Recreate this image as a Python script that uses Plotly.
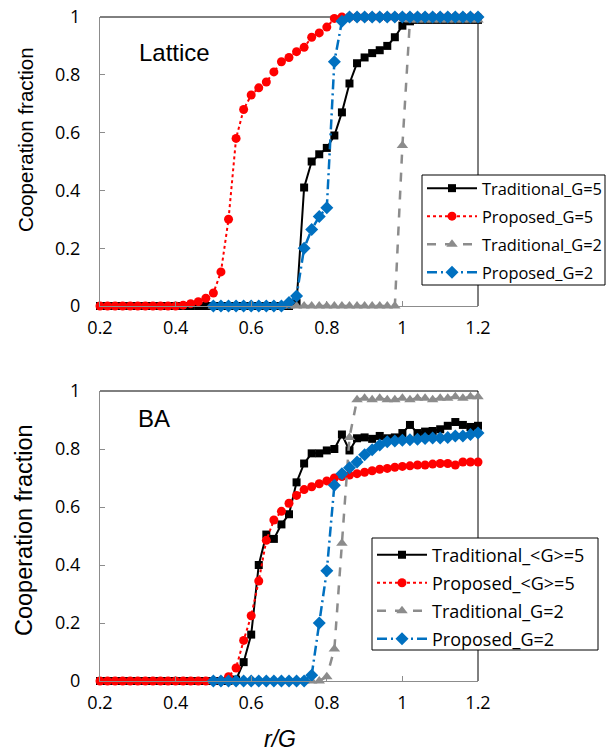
import plotly.graph_objects as go

# ---------------- data ----------------
r_G = [0.20, 0.22, 0.24, 0.26, 0.28, 0.30, 0.32, 0.34, 0.36, 0.38,
       0.40, 0.42, 0.44, 0.46, 0.48, 0.50, 0.52, 0.54, 0.56, 0.58,
       0.60, 0.62, 0.64, 0.66, 0.68, 0.70, 0.72, 0.74, 0.76, 0.78,
       0.80, 0.82, 0.84, 0.86, 0.88, 0.90, 0.92, 0.94, 0.96, 0.98,
       1.00, 1.02, 1.04, 1.06, 1.08, 1.10, 1.12, 1.14, 1.16, 1.18, 1.20]
r_G_from05 = r_G[15:]

# Lattice panel
lat_trad_g5 = [0]*26 + [0.01, 0.41, 0.50, 0.525, 0.547, 0.59, 0.67, 0.77, 0.84, 0.86,
                        0.875, 0.885, 0.90, 0.93, 0.97, 0.985] + [0.99]*9
lat_prop_g5 = [0]*11 + [0.003, 0.008, 0.015, 0.027, 0.045, 0.118, 0.30, 0.58, 0.68, 0.73,
                        0.755, 0.775, 0.81, 0.845, 0.86, 0.88, 0.895, 0.93, 0.945, 0.965,
                        0.995] + [1.0]*19
lat_trad_g2 = [0]*25 + [0.555] + [0.99]*10
lat_prop_g2 = [0]*10 + [0.012, 0.035, 0.20, 0.265, 0.31, 0.34, 0.845, 0.985] + [1.0]*18

# BA panel
ba_trad_g5 = [0]*18 + [0.005, 0.065, 0.16, 0.40, 0.505, 0.49, 0.54, 0.575, 0.685, 0.75,
                       0.785, 0.785, 0.795, 0.80, 0.85, 0.795, 0.837, 0.84, 0.835, 0.845,
                       0.837, 0.84, 0.855, 0.883, 0.855, 0.86, 0.862, 0.868, 0.88, 0.893,
                       0.883, 0.876, 0.88]
ba_prop_g5 = [0]*17 + [0.015, 0.045, 0.14, 0.225, 0.345, 0.485, 0.555, 0.585, 0.613, 0.64,
                       0.66, 0.67, 0.68, 0.69, 0.70, 0.705, 0.71, 0.715, 0.72, 0.725,
                       0.73, 0.733, 0.737, 0.74, 0.742, 0.745, 0.745, 0.748, 0.75, 0.75,
                       0.745, 0.755, 0.755, 0.755]
ba_trad_g2 = [0]*15 + [0.015, 0.11, 0.475, 0.84,
                       0.97, 0.975, 0.97, 0.975, 0.97, 0.97, 0.975, 0.97, 0.975, 0.975,
                       0.97, 0.975, 0.975, 0.98, 0.975, 0.98, 0.98]
ba_prop_g2 = [0]*13 + [0.02, 0.20, 0.38, 0.675, 0.715, 0.735, 0.755, 0.78, 0.797, 0.814,
                       0.825, 0.828, 0.83, 0.832, 0.834, 0.836, 0.838, 0.838, 0.84, 0.845,
                       0.845, 0.85, 0.855]

x_ticks = [0.2, 0.4, 0.6, 0.8, 1.0, 1.2]
y_ticks = [0, 0.2, 0.4, 0.6, 0.8, 1.0]

top_names = ["Traditional_G=5", "Proposed_G=5", "Traditional_G=2", "Proposed_G=2"]
bot_names = ["Traditional_<G>=5", "Proposed_<G>=5", "Traditional_G=2", "Proposed_G=2"]

# ---------------- layout helpers ----------------
W, H = 611, 755


def px(p):
    return p / W


def py(p):
    return 1 - p / H


# ---------------- styles ----------------
GRAY = "#8c8c8c"
BLUE = "#0070C0"
styles = [
    dict(line=dict(color="black", width=2, dash="solid"),
         marker=dict(symbol="square", size=8, color="black")),
    dict(line=dict(color="#ff0000", width=2, dash="dot"),
         marker=dict(symbol="circle", size=9, color="#ff0000")),
    dict(line=dict(color=GRAY, width=2.5, dash="dash"),
         marker=dict(symbol="triangle-up", size=10, color=GRAY)),
    dict(line=dict(color=BLUE, width=2.5, dash="10px,4px,2px,4px"),
         marker=dict(symbol="diamond", size=10, color=BLUE)),
]

fig = go.Figure()

top_data = [(r_G, lat_trad_g5), (r_G, lat_prop_g5), (r_G_from05, lat_trad_g2), (r_G_from05, lat_prop_g2)]
bot_data = [(r_G, ba_trad_g5), (r_G, ba_prop_g5), (r_G_from05, ba_trad_g2), (r_G_from05, ba_prop_g2)]

for i, ((xs, ys), name) in enumerate(zip(top_data, top_names)):
    fig.add_trace(go.Scatter(x=xs, y=ys, name=name, mode="lines+markers",
                             xaxis="x", yaxis="y", legend="legend",
                             legendgroup="t%d" % i, cliponaxis=False, **styles[i]))
for i, ((xs, ys), name) in enumerate(zip(bot_data, bot_names)):
    fig.add_trace(go.Scatter(x=xs, y=ys, name=name, mode="lines+markers",
                             xaxis="x2", yaxis="y2", legend="legend2",
                             legendgroup="b%d" % i, cliponaxis=False, **styles[i]))

xdom = [px(100), px(478)]
ytop = [py(306), py(17)]
ybot = [py(681), py(391)]

tickfont = dict(family="Open Sans", size=18, color="black")
common_x = dict(range=[0.2, 1.2], tickvals=x_ticks, ticks="inside", ticklen=5,
                tickcolor=GRAY, showline=True, linecolor=GRAY, linewidth=1,
                showgrid=False, zeroline=False, tickfont=tickfont, ticklabelstandoff=5,
                automargin=False)
common_y = dict(range=[0, 1], tickvals=y_ticks, ticks="inside", ticklen=5,
                tickcolor=GRAY, showline=True, linecolor=GRAY, linewidth=1,
                showgrid=False, zeroline=False, tickfont=tickfont, ticklabelstandoff=15,
                automargin=False)

legend_common = dict(bgcolor="rgba(0,0,0,0)", borderwidth=0,
                     xanchor="left", yanchor="top", itemwidth=50,
                     traceorder="grouped")

fig.update_layout(
    template="none",
    width=W, height=H,
    margin=dict(l=0, r=0, t=0, b=0, pad=0, autoexpand=False),
    paper_bgcolor="white", plot_bgcolor="white",
    xaxis=dict(domain=xdom, anchor="y", **common_x),
    yaxis=dict(domain=ytop, anchor="x", **common_y),
    xaxis2=dict(domain=xdom, anchor="y2", **common_x),
    yaxis2=dict(domain=ybot, anchor="x2", **common_y),
    legend=dict(x=px(422), y=py(171), tracegroupgap=3.7,
                font=dict(family="Open Sans", size=16.4, color="black"), **legend_common),
    legend2=dict(x=px(372), y=py(536.5), tracegroupgap=1.6,
                 font=dict(family="Open Sans", size=18, color="black"), **legend_common),
    showlegend=True,
)

# top / right frame lines
for xr, yr in (("x domain", "y domain"), ("x2 domain", "y2 domain")):
    fig.add_shape(type="line", xref=xr, yref=yr, x0=0, x1=1, y0=1, y1=1,
                  line=dict(color="black", width=1), layer="below")
    fig.add_shape(type="line", xref=xr, yref=yr, x0=1, x1=1, y0=0, y1=1,
                  line=dict(color="black", width=1), layer="below")

# legend boxes
for (x0, y0, x1, y1) in ((422, 175, 605, 285), (372, 538, 598, 650)):
    fig.add_shape(type="rect", xref="paper", yref="paper",
                  x0=px(x0), x1=px(x1), y0=py(y1), y1=py(y0),
                  line=dict(color="black", width=1), fillcolor="white", layer="above")

arial = "Liberation Sans, Arial"
annots = [
    dict(text="Lattice", x=px(174), y=py(52), font=dict(family=arial, size=24, color="black")),
    dict(text="BA", x=px(154), y=py(418), font=dict(family=arial, size=24, color="black")),
    dict(text="Cooperation fraction", x=px(25), y=py(140), textangle=-90,
         font=dict(family=arial, size=20.5, color="black")),
    dict(text="Cooperation fraction", x=px(24), y=py(530), textangle=-90,
         font=dict(family=arial, size=23.5, color="black")),
    dict(text="<i>r/G</i>", x=px(280), y=py(739), font=dict(family=arial, size=23, color="black")),
]
for a in annots:
    fig.add_annotation(xref="paper", yref="paper", showarrow=False,
                       xanchor="center", yanchor="middle", **a)

# remove the default 8px page margin so the 611x755 figure fills the window exactly
fig.write_html("out.html", config={"displayModeBar": False},
               post_script="document.body.style.margin='0px';")
